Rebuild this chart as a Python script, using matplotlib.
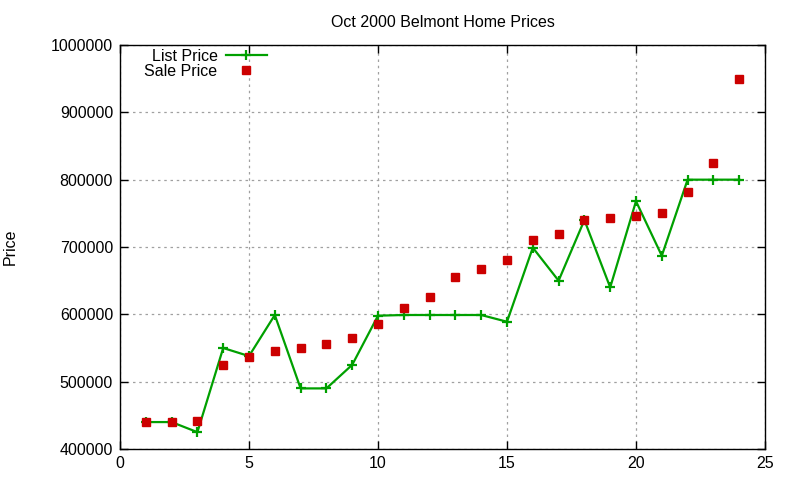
import matplotlib
matplotlib.use("Agg")
import matplotlib.pyplot as plt

plt.rcParams['font.family'] = ['Liberation Sans', 'DejaVu Sans']

# List price per house, index 1..24
list_x = list(range(1, 25))
list_price = [440000, 440000, 425000, 550000, 538000, 599000, 490000, 490000,
              525000, 598000, 599000, 599000, 599000, 599000, 589000, 699000,
              650000, 740000, 640000, 768000, 687000, 800000, 800000, 800000]

# Sale prices
sale_x = list(range(1, 25))
sale_price = [440000, 440000, 442000, 525000, 537000, 546000, 550000,
              556000, 565000, 585000, 609000, 626000, 655000, 667000, 680000,
              710000, 719000, 740000, 743000, 746000, 751000, 782000, 825000,
              950000]

fig = plt.figure(figsize=(8, 4.8), dpi=100)
ax = fig.add_axes([120/800, 1 - 449/480, 645/800, 404/480])

ax.plot(list_x, list_price, color='#00a000', lw=1.6, marker='+', ms=7.5,
        mew=1.6, label='List Price', zorder=3)
ax.plot(sale_x, sale_price, ls='none', marker='s', ms=6, color='#cc0000',
        label='Sale Price', zorder=4)

ax.set_xlim(0, 25)
ax.set_ylim(400000, 1000000)
ax.set_xticks(range(0, 26, 5))
ax.set_yticks(range(400000, 1000001, 100000))
ax.ticklabel_format(style='plain', axis='y')
ax.tick_params(direction='in', top=True, right=True, length=6, width=1,
               labelsize=11.5, pad=5)
ax.grid(True, color='#a0a0a0', ls=(0, (2, 3)), lw=0.9)
for s in ax.spines.values():
    s.set_linewidth(1)

ax.set_title('Oct 2000 Belmont Home Prices', fontsize=11.5, pad=13)
ax.set_ylabel('Price', fontsize=11.5, labelpad=24)

leg = ax.legend(loc='upper right', bbox_to_anchor=(0.228, 0.99), frameon=False,
                markerfirst=False, fontsize=11.5, handlelength=2.6,
                handletextpad=0.5, labelspacing=0.0, borderaxespad=0,
                borderpad=0)
# right-align the legend rows like gnuplot does
for col in leg._legend_handle_box.get_children():
    col.align = 'right'

fig.savefig('out.png', dpi=100)
